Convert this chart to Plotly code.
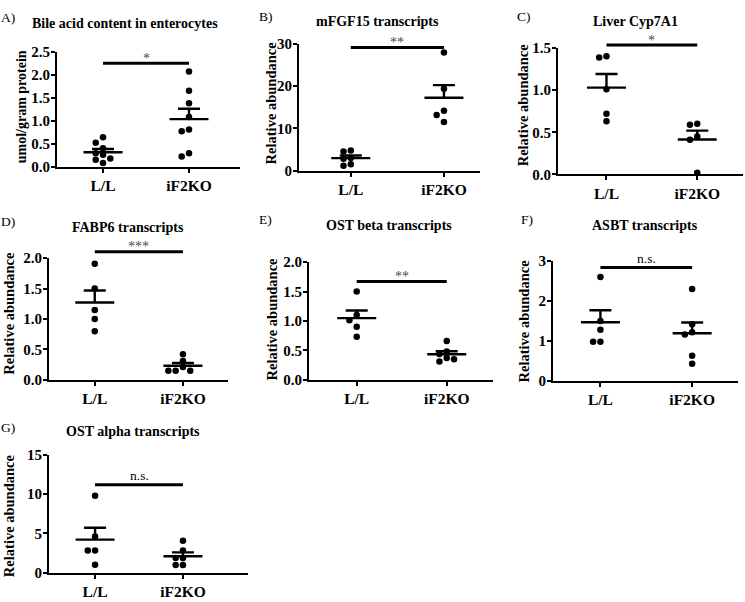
import numpy as np
import plotly.graph_objects as go

W, H = 745, 602
FONT = "Liberation Serif, Times New Roman, serif"

groups = ["L/L", "iF2KO"]

# ---- data ----
a_title = "Bile acid content in enterocytes"
a_ll = [0.64, 0.52, 0.40, 0.29, 0.26, 0.18, 0.15, 0.08]
a_ko = [2.07, 1.65, 1.38, 1.08, 0.81, 0.77, 0.29, 0.22]

b_title = "mFGF15 transcripts"
b_ll = [4.75, 4.5, 3.0, 2.8, 1.5, 1.15]
b_ko = [28.0, 19.4, 14.2, 13.2, 11.5]

c_title = "Liver Cyp7A1"
c_ll = [1.40, 1.385, 1.01, 0.72, 0.63]
c_ko = [0.60, 0.59, 0.45, 0.41, 0.02]

d_title = "FABP6 transcripts"
d_ll = [1.91, 1.50, 1.15, 1.00, 0.80]
d_ko = [0.42, 0.31, 0.21, 0.15, 0.15, 0.15]

e_title = "OST beta transcripts"
e_ll = [1.50, 1.10, 1.01, 0.90, 0.73]
e_ko = [0.66, 0.48, 0.44, 0.37, 0.35, 0.31]

f_title = "ASBT transcripts"
f_ll = [2.60, 1.50, 1.28, 0.98, 0.98]
f_ko = [2.30, 1.42, 1.22, 1.16, 0.63, 0.43]

g_title = "OST alpha transcripts"
g_ll = [9.8, 4.6, 2.8, 2.8, 1.0]
g_ko = [4.06, 2.82, 1.86, 1.86, 0.96, 0.96]

letters = ["A)", "B)", "C)", "D)", "E)", "F)", "G)"]
titles = [a_title, b_title, c_title, d_title, e_title, f_title, g_title]
ytitles = ["umol/gram protein"] + ["Relative abundance"] * 6
series = [(a_ll, a_ko), (b_ll, b_ko), (c_ll, c_ko), (d_ll, d_ko),
          (e_ll, e_ko), (f_ll, f_ko), (g_ll, g_ko)]
y_max = [2.5, 30, 1.5, 2.0, 2.0, 3, 15]
y_dtick = [0.5, 10, 0.5, 0.5, 0.5, 1, 5]
y_fmt = [".1f", "d", ".1f", ".1f", ".1f", "d", "d"]
sig_text = ["*", "**", "*", "***", "**", "n.s.", "n.s."]
sig_y = [2.25, 29.2, 1.534, 2.106, 1.67, 2.84, 11.2]

# ---- layout geometry (pixels) ----
boxes = [  # x0, x1, y0(top), y1(bottom)
    (57, 240, 45, 163),
    (299, 480, 37, 167),
    (558, 743, 41, 171),
    (49, 228, 257, 382),
    (309, 493, 261, 382),
    (553, 738, 260, 383),
    (49, 248, 459, 580),
]
xranges = [(-0.535, 1.593), (-0.556, 1.387), (-0.534, 1.504), (-0.519, 1.511),
           (-0.53, 1.514), (-0.517, 1.50), (-0.524, 1.74)]
title_pos = [(125, 16), (377, 14), (635, 14), (128, 225), (389, 223), (645, 223), (133, 435)]
letter_pos = [(-1, 10), (257, 9), (515, 9), (-1, 219), (257, 217), (519, 217), (-1, 431)]
ytitle_pos = [(21, 102), (271, 98), (523, 100), (9, 314), (272, 320), (524, 322), (9, 522)]

fig = go.Figure()
layout = dict(width=W, height=H, margin=dict(l=0, r=0, t=0, b=0),
              plot_bgcolor="white", paper_bgcolor="white", showlegend=False)
annotations = []
shapes = []

def swarm(vals, ppu_y, step_px, ppc):
    vals = np.asarray(vals, float)
    order = np.argsort(-vals)
    placed = []
    offs = np.zeros(len(vals))
    d = 5.8
    for i in order:
        y = vals[i] * ppu_y
        for k in [0, -1, 1, -2, 2, -3, 3]:
            if all(not (kk == k and abs(yy - y) < d) for kk, yy in placed):
                placed.append((k, y))
                offs[i] = k * step_px / ppc
                break
    return offs

for i in range(7):
    n = "" if i == 0 else str(i + 1)
    xa, ya = "x" + n, "y" + n
    x0, x1, y0, y1 = boxes[i]
    xr = xranges[i]
    ppc = (x1 - x0) / (xr[1] - xr[0])
    ppu = (y1 - y0) / y_max[i]
    layout["xaxis" + n] = dict(
        domain=[x0 / W, x1 / W], range=list(xr), anchor=ya,
        tickvals=[0, 1], ticktext=groups, showline=True, linewidth=2,
        linecolor="black", ticks="outside", ticklen=4, tickwidth=2,
        tickcolor="black", showgrid=False, zeroline=False,
        tickfont=dict(family=FONT, size=15.5, color="black", weight="bold"),
        fixedrange=True)
    layout["yaxis" + n] = dict(
        domain=[1 - y1 / H, 1 - y0 / H], range=[0, y_max[i]], anchor=xa,
        dtick=y_dtick[i], tick0=0, tickformat=y_fmt[i], showline=True,
        linewidth=2, linecolor="black", ticks="outside", ticklen=4,
        tickwidth=2, tickcolor="black", showgrid=False, zeroline=False,
        ticklabelstandoff=-2,
        tickfont=dict(family=FONT, size=15, color="black", weight="bold"),
        fixedrange=True)

    for c, vals in enumerate(series[i]):
        v = np.asarray(vals, float)
        m = v.mean()
        sem = v.std(ddof=1) / np.sqrt(len(v))
        offs = swarm(v, ppu, 7.3, ppc)
        fig.add_trace(go.Scatter(
            x=c + offs, y=v, mode="markers", xaxis=xa, yaxis=ya,
            marker=dict(color="black", size=6.5), cliponaxis=False,
            hoverinfo="y"))
        hw, cw = 19.5 / ppc, 11 / ppc
        fig.add_trace(go.Scatter(
            x=[c - hw, c + hw, None, c, c, None, c - cw, c + cw],
            y=[m, m, None, m, m + sem, None, m + sem, m + sem],
            mode="lines", xaxis=xa, yaxis=ya,
            line=dict(color="black", width=2.4), hoverinfo="skip"))

    # significance bar (paper coords from the y axis mapping)
    dy0, dy1 = layout["yaxis" + n]["domain"]
    def to_px_x(xv):
        return x0 + (xv - xr[0]) * ppc
    by = dy0 + sig_y[i] / y_max[i] * (dy1 - dy0)
    shapes.append(dict(type="line", xref="paper", yref="paper",
                       x0=to_px_x(0) / W, x1=to_px_x(1) / W, y0=by, y1=by,
                       line=dict(color="black", width=3)))
    is_star = "*" in sig_text[i]
    annotations.append(dict(
        text=sig_text[i], xref="paper", yref="paper",
        x=to_px_x(0.5) / W, y=by + (5 if is_star else 9) / H,
        xanchor="center", yanchor="middle", showarrow=False,
        font=dict(family=FONT, size=14 if is_star else 13.5,
                  color="#4a4a4a" if is_star else "black")))

    tx, ty = title_pos[i]
    annotations.append(dict(text="<b>" + titles[i] + "</b>", xref="paper", yref="paper",
                            x=tx / W, y=1 - ty / H, xanchor="center", yanchor="middle",
                            showarrow=False, font=dict(family=FONT, size=14, color="black")))
    lx, ly = letter_pos[i]
    annotations.append(dict(text=letters[i], xref="paper", yref="paper",
                            x=lx / W, y=1 - ly / H, xanchor="left", yanchor="middle",
                            showarrow=False, font=dict(family=FONT, size=13.5, color="black")))
    ax_, ay_ = ytitle_pos[i]
    annotations.append(dict(text="<b>" + ytitles[i] + "</b>", xref="paper", yref="paper",
                            x=ax_ / W, y=1 - ay_ / H, xanchor="center", yanchor="middle",
                            textangle=-90, showarrow=False,
                            font=dict(family=FONT, size=14.5 if i else 14, color="black")))

layout["annotations"] = annotations
layout["shapes"] = shapes
fig.update_layout(**layout)
fig.write_html("out.html", config={"displayModeBar": False},
               post_script="document.body.style.margin='0px';document.body.style.overflow='hidden';")
